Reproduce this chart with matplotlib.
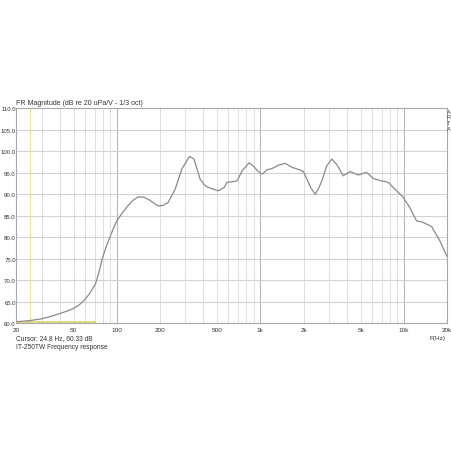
import matplotlib
matplotlib.use("Agg")
import matplotlib.pyplot as plt
from matplotlib.ticker import FixedLocator, NullFormatter

plt.rcParams["font.family"] = ["Liberation Sans", "DejaVu Sans"]

# Frequency response
freq = [20, 25, 30, 35, 40, 45, 50, 55, 60, 65, 71, 75, 79, 84, 88, 94, 100,
        110, 120, 130, 141, 155, 170, 185, 195, 210, 228, 255, 285, 321, 345,
        381, 413, 448, 511, 560, 587, 635, 689, 748, 834, 894, 960, 1029, 1115,
        1209, 1342, 1491, 1658, 1797, 1998, 2112, 2250, 2415, 2550, 2683, 2902,
        3143, 3404, 3784, 4210, 4810, 5496, 6116, 6995, 7785, 8664, 9890, 11000,
        12270, 13300, 15610, 17800, 20000]
mag = [60.3, 60.6, 61.0, 61.6, 62.2, 62.8, 63.4, 64.3, 65.5, 67.0, 69.1, 71.8,
       74.9, 77.6, 79.4, 81.8, 83.8, 85.8, 87.4, 88.6, 89.4, 89.3, 88.6, 87.7,
       87.3, 87.4, 88.1, 91.2, 96.0, 98.8, 98.2, 93.5, 92.0, 91.4, 90.8, 91.6,
       92.8, 92.9, 93.1, 95.5, 97.3, 96.6, 95.4, 94.7, 95.7, 96.0, 96.8, 97.2,
       96.3, 95.9, 95.3, 93.5, 91.5, 90.0, 91.4, 93.1, 96.6, 98.2, 97.0, 94.3,
       95.3, 94.5, 95.1, 93.7, 93.1, 92.8, 91.2, 89.3, 86.9, 83.8, 83.6, 82.5,
       79.2, 75.5]

cursor_f = 24.8
cursor_db = 60.33

xticks = [20, 50, 100, 200, 500, 1000, 2000, 5000, 10000, 20000]
xlabels = ["20", "50", "100", "200", "500", "1k", "2k", "5k", "10k", "20k"]
yticks = [60, 65, 70, 75, 80, 85, 90, 95, 100, 105, 110]

fig = plt.figure(figsize=(4.52, 4.52), dpi=100)
ax = fig.add_axes([0.0365, 0.283, 0.9525, 0.475])

# log grid: minor lines lighter, decades darker
minor = [m * d for d in (10, 100, 1000) for m in range(2, 10) if 20 <= m * d <= 20000]
for f in minor:
    ax.axvline(f, color="#dedede", lw=0.7, zorder=0)
for f in (100, 1000, 10000):
    ax.axvline(f, color="#b8b8b8", lw=0.8, zorder=0)
for y in yticks[1:-1]:
    ax.axhline(y, color="#d2d2d2", lw=0.8, zorder=0)

# cursor
ax.axvline(cursor_f, color="#e8e4a0", lw=0.8, zorder=1)
ax.plot([20, 71], [cursor_db, cursor_db], color="#d8d060", lw=1.1, zorder=1)

ax.plot(freq, mag, color="#8a8a8a", lw=0.9, zorder=2)

ax.set_xscale("log")
ax.set_xlim(20, 20000)
ax.set_ylim(60, 110)
ax.xaxis.set_major_locator(FixedLocator(xticks))
ax.set_xticklabels(xlabels)
ax.xaxis.set_minor_locator(FixedLocator([]))
ax.xaxis.set_minor_formatter(NullFormatter())
ax.set_yticks(yticks)
ax.set_yticklabels([f"{v:.1f}" for v in yticks])
ax.tick_params(length=0, labelsize=4.6, colors="#333333")
ax.tick_params(axis="y", pad=0.5, labelsize=4.3)
ax.tick_params(axis="x", pad=2.5)
for s in ax.spines.values():
    s.set_color("#a8a8a8")
    s.set_linewidth(0.8)

fig.text(0.0365, 0.764, "FR Magnitude (dB re 20 uPa/V - 1/3 oct)", fontsize=5,
         color="#333333", ha="left", va="bottom")
for i, ch in enumerate("ARTA"):
    fig.text(0.997, 0.757 - i * 0.0125, ch, fontsize=4, color="#444444",
             ha="right", va="top")
fig.text(0.985, 0.252, "F(Hz)", fontsize=4.6, color="#333333", ha="right", va="center")
fig.text(0.0365, 0.252, "Cursor: 24.8 Hz, 60.33 dB", fontsize=4.8,
         color="#333333", ha="left", va="center")
fig.text(0.0365, 0.232, "IT-250TW Frequency response", fontsize=4.8,
         color="#333333", ha="left", va="center")

fig.savefig("out.png", dpi=100, facecolor="white")
